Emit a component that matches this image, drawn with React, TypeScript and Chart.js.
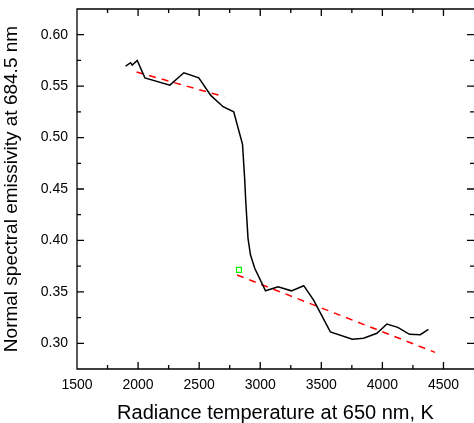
import React, { useEffect, useRef } from "react";
import { Chart, registerables } from "chart.js";

Chart.register(...registerables);

// Axis ticks
const X_TICKS = [1500, 2000, 2500, 3000, 3500, 4000, 4500];
const X_MINOR = [1750, 2250, 2750, 3250, 3750, 4250];
const Y_TICKS = [0.3, 0.35, 0.4, 0.45, 0.5, 0.55, 0.6];
const Y_MINOR = [0.325, 0.375, 0.425, 0.475, 0.525, 0.575];

// Measured curve
const TEMP = [
  1898, 1939, 1952, 1993, 2056, 2260, 2375, 2497, 2595, 2696, 2783, 2855, 2873,
  2881, 2900, 2920, 2955, 3043, 3146, 3255, 3356, 3437, 3574, 3754, 3846, 3955,
  4037, 4126, 4222, 4310, 4377,
];
const EMISS = [
  0.5695, 0.5728, 0.5705, 0.575, 0.558, 0.551, 0.563, 0.558, 0.541, 0.53, 0.525,
  0.4935, 0.459, 0.439, 0.402, 0.386, 0.373, 0.351, 0.355, 0.351, 0.356, 0.342,
  0.311, 0.304, 0.305, 0.3097, 0.3187, 0.3155, 0.3087, 0.3084, 0.3136,
];

// Linear fits (red dashed)
const FIT1_T = [1988, 2706];
const FIT1_E = [0.5637, 0.5397];
const FIT2_T = [2810, 4431];
const FIT2_E = [0.3664, 0.2912];

// Marker (green square)
const MARK_T = [2826];
const MARK_E = [0.3713];

const FONT = "'Liberation Sans', Arial, Helvetica, sans-serif";

const pts = (xs: number[], ys: number[]) => xs.map((x, i) => ({ x, y: ys[i] }));

const framePlugin = {
  id: "frame",
  afterDatasetsDraw(chart: any) {
    const { ctx, chartArea: a, scales } = chart;
    const xs = scales.x;
    const ys = scales.y;
    ctx.save();
    ctx.strokeStyle = "#000";
    ctx.lineWidth = 1.3;
    ctx.beginPath();
    ctx.moveTo(a.right, a.top);
    ctx.lineTo(a.left, a.top);
    ctx.lineTo(a.left, a.bottom);
    ctx.lineTo(a.right, a.bottom);
    const MAJ = 7;
    const MIN = 4;
    X_TICKS.forEach((v) => {
      const p = xs.getPixelForValue(v);
      ctx.moveTo(p, a.bottom);
      ctx.lineTo(p, a.bottom - MAJ);
      ctx.moveTo(p, a.top);
      ctx.lineTo(p, a.top + MAJ);
    });
    X_MINOR.forEach((v) => {
      const p = xs.getPixelForValue(v);
      ctx.moveTo(p, a.bottom);
      ctx.lineTo(p, a.bottom - MIN);
      ctx.moveTo(p, a.top);
      ctx.lineTo(p, a.top + MIN);
    });
    Y_TICKS.forEach((v) => {
      const p = ys.getPixelForValue(v);
      ctx.moveTo(a.left, p);
      ctx.lineTo(a.left + MAJ, p);
      ctx.moveTo(a.right, p);
      ctx.lineTo(a.right - MAJ, p);
    });
    Y_MINOR.forEach((v) => {
      const p = ys.getPixelForValue(v);
      ctx.moveTo(a.left, p);
      ctx.lineTo(a.left + MIN, p);
      ctx.moveTo(a.right, p);
      ctx.lineTo(a.right - MIN, p);
    });
    ctx.stroke();
    ctx.restore();
  },
};

export default function App() {
  const ref = useRef<HTMLCanvasElement | null>(null);

  useEffect(() => {
    document.body.style.margin = "0";
    if (!ref.current) return;
    const chart = new Chart(ref.current, {
      type: "scatter",
      data: {
        datasets: [
          {
            data: pts(TEMP, EMISS),
            showLine: true,
            borderColor: "#000",
            borderWidth: 1.5,
            pointRadius: 0,
            tension: 0,
          },
          {
            data: pts(FIT1_T, FIT1_E),
            showLine: true,
            borderColor: "#ff0000",
            borderWidth: 1.5,
            borderDash: [7, 6],
            pointRadius: 0,
          },
          {
            data: pts(FIT2_T, FIT2_E),
            showLine: true,
            borderColor: "#ff0000",
            borderWidth: 1.5,
            borderDash: [7, 6],
            pointRadius: 0,
          },
          {
            data: pts(MARK_T, MARK_E),
            showLine: false,
            pointStyle: "rect",
            pointRadius: 3.5,
            borderColor: "#00ee00",
            backgroundColor: "rgba(0,0,0,0)",
            borderWidth: 1.2,
          },
        ],
      },
      options: {
        responsive: false,
        animation: false,
        devicePixelRatio: 1,
        layout: { autoPadding: false, padding: { top: 9, right: 0, left: 0, bottom: 0 } },
        plugins: {
          legend: { display: false },
          tooltip: { enabled: false },
        },
        scales: {
          x: {
            type: "linear",
            min: 1500,
            max: 4750,
            grid: { display: false, drawTicks: false },
            border: { display: false },
            afterBuildTicks: (s: any) => {
              s.ticks = X_TICKS.map((v) => ({ value: v }));
            },
            afterFit: (s: any) => {
              s.height = 54;
              s.paddingLeft = 0;
              s.paddingRight = 0;
            },
            ticks: {
              padding: 8,
              color: "#000",
              font: { family: FONT, size: 14 },
              maxRotation: 0,
              callback: (v: any) => String(v),
            },
            title: {
              display: true,
              text: "Radiance temperature at 650 nm, K",
              color: "#000",
              font: { family: FONT, size: 20, lineHeight: 1 },
              padding: { top: 0, bottom: 0 },
            },
          },
          y: {
            type: "linear",
            min: 0.275,
            max: 0.625,
            grid: { display: false, drawTicks: false },
            border: { display: false },
            afterBuildTicks: (s: any) => {
              s.ticks = Y_TICKS.map((v) => ({ value: v }));
            },
            afterFit: (s: any) => {
              s.width = 77;
              s.paddingTop = 0;
              s.paddingBottom = 0;
            },
            ticks: {
              padding: 9,
              color: "#000",
              font: { family: FONT, size: 14 },
              callback: (v: any) => Number(v).toFixed(2),
            },
            title: {
              display: true,
              text: "Normal spectral emissivity at 684.5 nm",
              color: "#000",
              font: { family: FONT, size: 19, lineHeight: 1 },
              padding: { top: 2, bottom: 0 },
            },
          },
        },
      },
      plugins: [framePlugin],
    });
    return () => chart.destroy();
  }, []);

  return (
    <div style={{ width: 474, height: 423, overflow: "hidden", background: "#fff" }}>
      <canvas ref={ref} width={474} height={423} style={{ display: "block", width: 474, height: 423 }} />
    </div>
  );
}
